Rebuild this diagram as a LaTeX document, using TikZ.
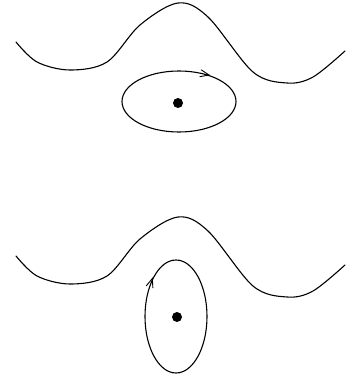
\documentclass[tikz,border=0pt]{standalone}
\usetikzlibrary{arrows.meta, decorations.markings}

\begin{document}
\begin{tikzpicture}[
  x=1pt, y=1pt,
  wave/.style={line width=1.1pt, line cap=round},
  orbit/.style={line width=1.1pt},
  dot/.style={circle, fill=black, inner sep=0pt, minimum size=10pt},
  flowmark/.style={postaction={decorate, decoration={markings,
      mark=at position #1 with {\arrow[line width=0.9pt]{Straight Barb[reversed, length=9pt, width=7pt]}}}}},
]
\useasboundingbox (0,0) rectangle (357,378);

% ===== Upper panel: wide orbit below the ridge =====
\begin{scope}[shift={(0,0)}]
  % Ridge
  \draw[wave] plot[smooth, tension=0.55] coordinates {
    (16,336) (37,316) (70,308) (107,316) (140,353) (178,375)
    (208,361) (253,306) (287,295) (313,301) (345,327)};

  % Orbit
  \draw[orbit, flowmark=0.175] (179,276.5) ellipse [x radius=57, y radius=30.5];

  % Centre
  \node[dot] (upcore) at (178,275) {};
\end{scope}

% ===== Lower panel: tall orbit reaching into the ridge =====
\begin{scope}[shift={(0,-214)}]
  % Ridge
  \draw[wave] plot[smooth, tension=0.55] coordinates {
    (16,336) (37,316) (70,308) (107,316) (140,353) (178,375)
    (208,361) (253,306) (287,295) (313,301) (345,327)};

  % Orbit
  \draw[orbit, flowmark=0.395] (176,275.5) ellipse [x radius=31, y radius=56.5];

  % Centre
  \node[dot] (lowcore) at (177,275) {};
\end{scope}

\end{tikzpicture}
\end{document}
